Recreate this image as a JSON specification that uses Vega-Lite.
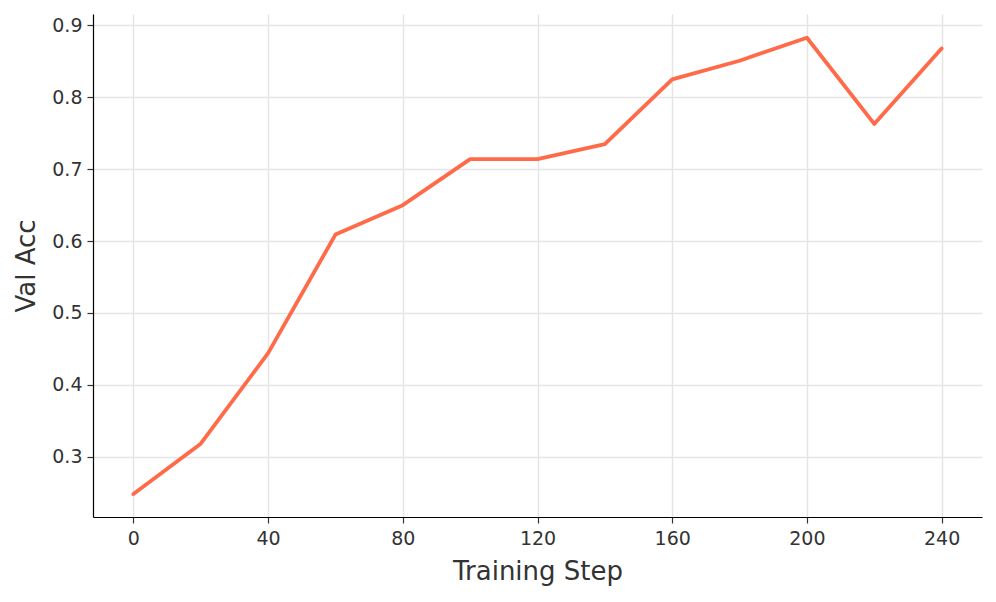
{
  "$schema": "https://vega.github.io/schema/vega-lite/v6.json",
  "width": 889,
  "height": 503,
  "autosize": "none",
  "padding": {"left": 93, "top": 14, "right": 14, "bottom": 85},
  "background": "white",
  "config": {
    "view": {"stroke": null},
    "font": "DejaVu Sans",
    "axis": {
      "labelFont": "DejaVu Sans",
      "titleFont": "DejaVu Sans",
      "labelFontSize": 19,
      "titleFontSize": 26,
      "titleFontWeight": "normal",
      "labelColor": "#333333",
      "titleColor": "#333333",
      "domainColor": "#000000",
      "domainWidth": 1.2,
      "tickColor": "#333333",
      "tickSize": 6,
      "tickWidth": 1.2,
      "gridColor": "#e5e5e5",
      "gridWidth": 1.5
    }
  },
  "data": {
    "values": [
      {"step": 0, "acc": 0.248},
      {"step": 20, "acc": 0.318},
      {"step": 40, "acc": 0.444},
      {"step": 60, "acc": 0.609},
      {"step": 80, "acc": 0.650},
      {"step": 100, "acc": 0.714},
      {"step": 120, "acc": 0.714},
      {"step": 140, "acc": 0.735},
      {"step": 160, "acc": 0.825},
      {"step": 180, "acc": 0.851},
      {"step": 200, "acc": 0.883},
      {"step": 220, "acc": 0.763},
      {"step": 240, "acc": 0.868}
    ]
  },
  "mark": {"type": "line", "color": "#ff6a48", "strokeWidth": 3.8, "strokeCap": "round", "strokeJoin": "round"},
  "encoding": {
    "x": {
      "field": "step",
      "type": "quantitative",
      "scale": {"domain": [-12, 252], "nice": false, "zero": false},
      "axis": {"title": "Training Step", "values": [0, 40, 80, 120, 160, 200, 240], "labelPadding": 6, "titlePadding": 10}
    },
    "y": {
      "field": "acc",
      "type": "quantitative",
      "scale": {"domain": [0.216, 0.916], "nice": false, "zero": false},
      "axis": {"title": "Val Acc", "values": [0.3, 0.4, 0.5, 0.6, 0.7, 0.8, 0.9], "format": ".1f", "labelPadding": 5, "titlePadding": 12}
    }
  }
}
